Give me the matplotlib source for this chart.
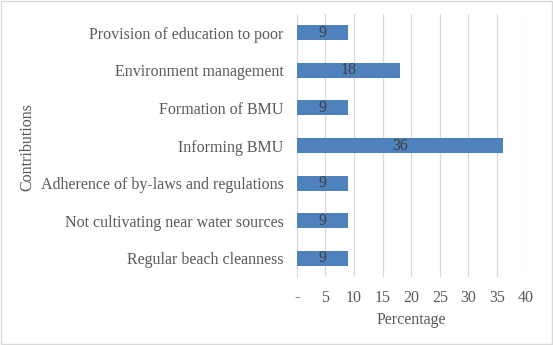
import matplotlib
matplotlib.use("Agg")
import matplotlib.pyplot as plt

# data (top to bottom)
contributions = [
    "Provision of education to poor",
    "Environment management",
    "Formation of BMU",
    "Informing BMU",
    "Adherence of by-laws and regulations",
    "Not cultivating near water sources",
    "Regular beach cleanness",
]
percentages = [9, 18, 9, 36, 9, 9, 9]
tick_values = [0, 5, 10, 15, 20, 25, 30, 35, 40]
tick_labels = ["-", "5", "10", "15", "20", "25", "30", "35", "40"]

plt.rcParams["font.family"] = ["Liberation Serif", "DejaVu Serif"]
text_col = "#595959"
fs = 11.5

fig = plt.figure(figsize=(5.53, 3.45), dpi=100)
# plot area in pixels: x 296.7..525.7, y 14..277
W, H = 553.0, 345.0
ax = fig.add_axes([296.7 / W, 1 - 277 / H, (525.7 - 296.7) / W, (277 - 14) / H])

pos = list(range(len(contributions)))
bars = ax.barh(pos, percentages, height=0.4, color="#4f81bd", zorder=3)
for b, v in zip(bars, percentages):
    ax.text(b.get_width() / 2, b.get_y() + b.get_height() / 2, str(v),
            ha="center", va="center", fontsize=fs, color="#404040", zorder=4)

ax.set_ylim(len(contributions) - 0.5, -0.5)
ax.set_xlim(0, 40)
ax.set_yticks(pos)
ax.set_yticklabels(contributions, fontsize=fs, color=text_col)
ax.set_xticks(tick_values)
ax.set_xticklabels(tick_labels, fontsize=fs, color=text_col)
ax.tick_params(length=0)
ax.tick_params(axis="y", pad=9.5)
ax.tick_params(axis="x", pad=9)

ax.grid(axis="x", color="#d9d9d9", linewidth=0.9, zorder=0)
for s in ["top", "right", "bottom"]:
    ax.spines[s].set_visible(False)
ax.spines["left"].set_color("#d9d9d9")

ax.set_xlabel("Percentage", fontsize=fs, color=text_col, labelpad=5)
fig.text(27 / W, 1 - 147 / H, "Contributions", rotation=90, fontsize=fs,
         color=text_col, ha="center", va="center")

# light chart border
fig.patches.append(plt.Rectangle((0.001, 0.002), 0.997, 0.995, transform=fig.transFigure,
                                 fill=False, edgecolor="#d9d9d9", linewidth=1))

fig.savefig("out.png", dpi=100)
